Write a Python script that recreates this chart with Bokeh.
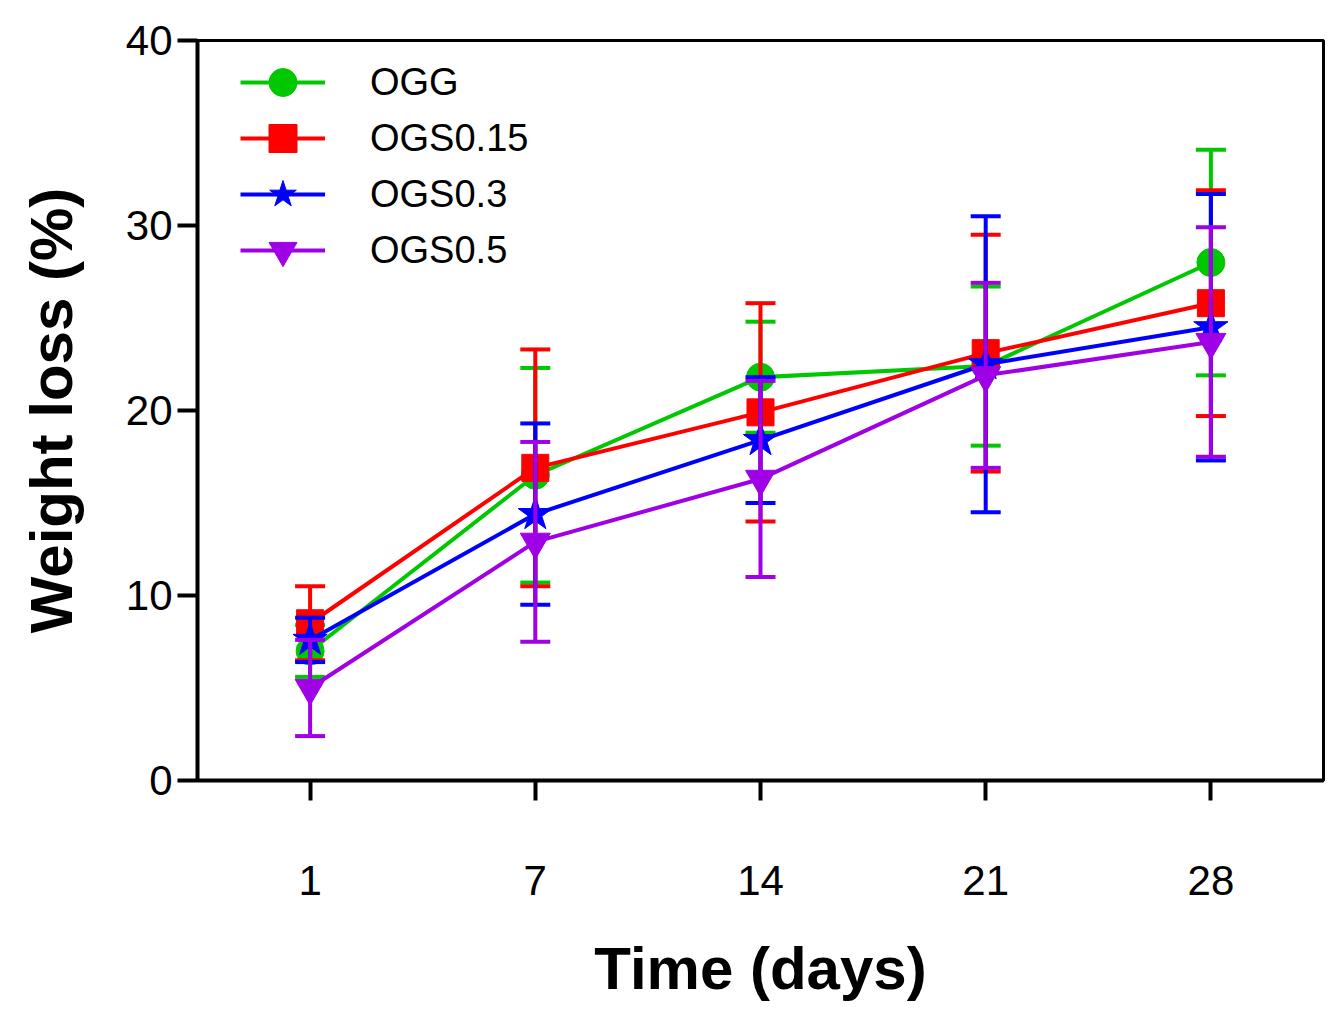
from bokeh.plotting import figure
from bokeh.models import FixedTicker, Range1d, Legend, LegendItem
from bokeh.embed import file_html
from bokeh.resources import INLINE

# ---- data ----
days = ["1", "7", "14", "21", "28"]
series_names = ["OGG", "OGS0.15", "OGS0.3", "OGS0.5"]
ogg_mean = [7.0, 16.5, 21.8, 22.4, 28.0]
ogg_sd = [1.4, 5.8, 3.0, 4.3, 6.1]
ogs015_mean = [8.5, 16.9, 19.9, 23.1, 25.8]
ogs015_sd = [2.0, 6.4, 5.9, 6.4, 6.1]
ogs03_mean = [7.6, 14.4, 18.4, 22.5, 24.5]
ogs03_sd = [1.2, 4.9, 3.4, 8.0, 7.2]
ogs05_mean = [5.0, 12.9, 16.3, 21.9, 23.7]
ogs05_sd = [2.6, 5.4, 5.3, 5.0, 6.2]
y_ticks = [0, 10, 20, 30, 40]

means = [ogg_mean, ogs015_mean, ogs03_mean, ogs05_mean]
sds = [ogg_sd, ogs015_sd, ogs03_sd, ogs05_sd]
colors = ["#00c800", "#ff0000", "#0000ff", "#a000e6"]
markers = ["circle", "square", "star", "inverted_triangle"]
msizes = [28, 27, 36, 30]

FONT = "Liberation Sans"
xs = list(range(len(days)))

p = figure(frame_width=1126, frame_height=740,
           min_border_left=197, min_border_right=10,
           min_border_top=40, min_border_bottom=222,
           x_range=Range1d(-0.5, len(days) - 0.5), y_range=Range1d(0, 40),
           output_backend="svg", toolbar_location=None)

p.xgrid.visible = False
p.ygrid.visible = False
p.background_fill_color = "white"
p.border_fill_color = "white"
p.outline_line_color = "black"
p.outline_line_width = 3

for ax in (p.xaxis[0], p.yaxis[0]):
    ax.axis_line_width = 4
    ax.axis_line_color = "black"
    ax.major_tick_line_width = 4
    ax.major_tick_line_color = "black"
    ax.major_tick_out = 20
    ax.major_tick_in = 0
    ax.minor_tick_line_color = None
    ax.major_label_text_font = FONT
    ax.major_label_text_font_size = "42px"
    ax.major_label_text_color = "black"
    ax.axis_label_text_font = FONT
    ax.axis_label_text_font_size = "60px"
    ax.axis_label_text_font_style = "bold"
    ax.axis_label_text_color = "black"

p.xaxis.ticker = FixedTicker(ticks=xs)
p.xaxis.major_label_overrides = {i: d for i, d in zip(xs, days)}
p.xaxis.major_label_standoff = 65
p.xaxis.axis_label = "Time (days)"
p.xaxis.axis_label_standoff = 37

p.yaxis.ticker = FixedTicker(ticks=y_ticks)
p.yaxis.major_label_standoff = 5
p.yaxis.axis_label = "Weight loss (%)"
p.yaxis.axis_label_standoff = 38

items = []
for name, m, s, c, mk, ms in zip(series_names, means, sds, colors, markers, msizes):
    upper = [a + b for a, b in zip(m, s)]
    lower = [a - b for a, b in zip(m, s)]
    p.segment(x0=xs, y0=lower, x1=xs, y1=upper, line_color=c, line_width=4)
    p.scatter(x=xs + xs, y=upper + lower, marker="dash", size=30,
              line_color=c, line_width=4)
    lr = p.line(x=xs, y=m, line_color=c, line_width=4)
    sr = p.scatter(x=xs, y=m, marker=mk, size=ms, fill_color=c, line_color=c)
    items.append(LegendItem(label=name, renderers=[lr, sr]))

# one single-row legend per series, stacked 56 px apart (large legend markers)
ROW_H = 70
PITCH = 56
TOP = 7
FRAME_H = 740
for i, item in enumerate(items):
    lg = Legend(items=[item], location=(43, FRAME_H - TOP - PITCH * i - ROW_H),
                margin=0, padding=0,
                glyph_width=85, glyph_height=ROW_H, label_height=ROW_H,
                spacing=0, label_standoff=45,
                label_text_font=FONT, label_text_font_size="38px",
                label_text_color="black",
                border_line_color=None, background_fill_alpha=0)
    p.add_layout(lg, "center")

open("out.html", "w").write(file_html(p, INLINE))
